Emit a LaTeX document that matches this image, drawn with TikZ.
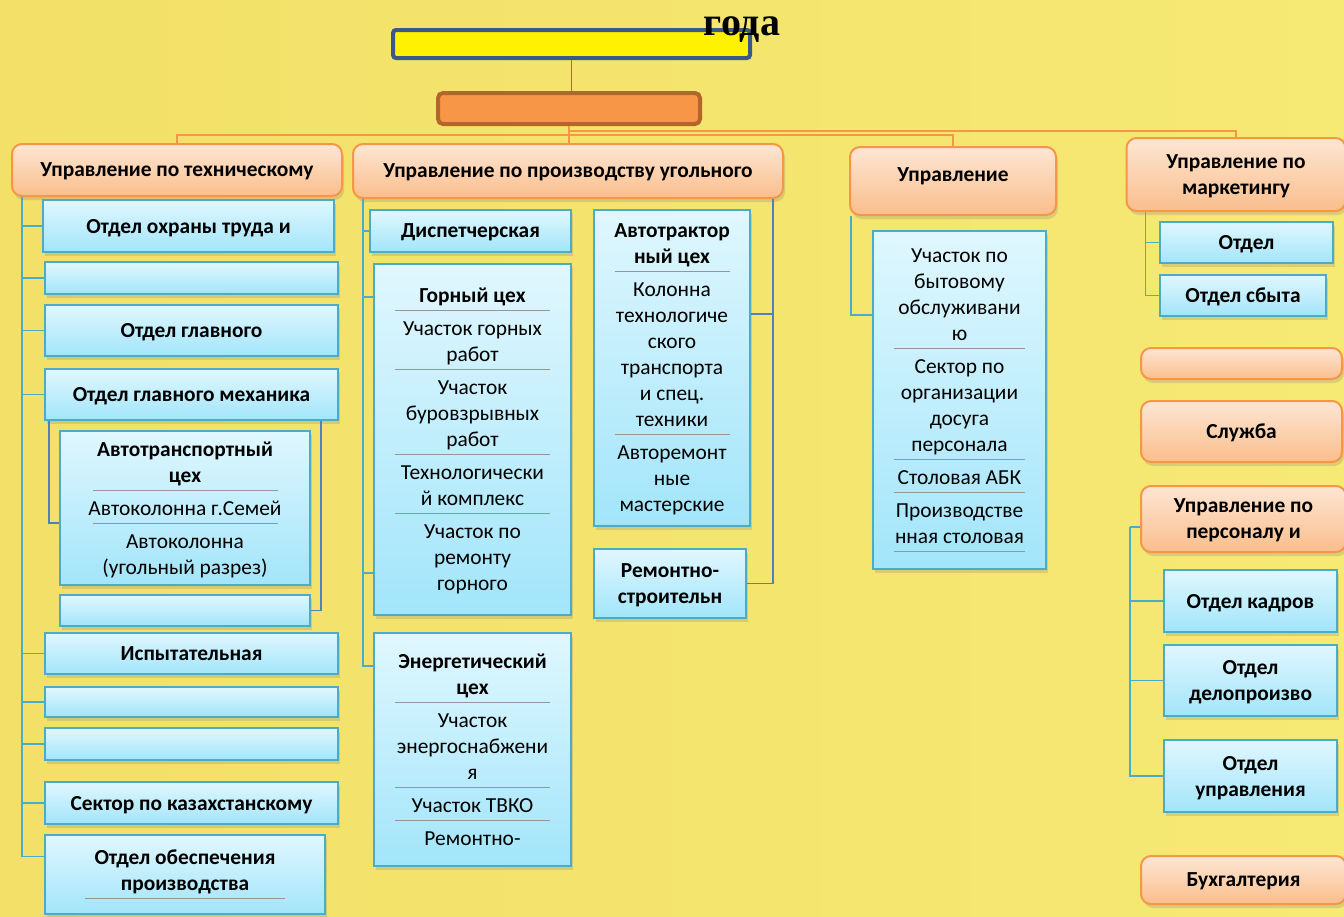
\documentclass[tikz,border=0pt]{standalone}
\usepackage{fontspec}
\setmainfont{Carlito}
\newfontfamily\titlefont{Liberation Serif}
\usetikzlibrary{shadows,calc}

\definecolor{bgL}{RGB}{242,224,104}
\definecolor{bgM}{RGB}{250,243,138}
\definecolor{bgR}{RGB}{246,233,116}
\definecolor{deptA}{RGB}{253,230,212}
\definecolor{deptB}{RGB}{250,190,140}
\definecolor{deptL}{RGB}{247,150,70}
\definecolor{unitA}{RGB}{224,247,254}
\definecolor{unitB}{RGB}{162,229,250}
\definecolor{unitL}{RGB}{75,172,198}
\definecolor{darkL}{RGB}{79,129,189}
\definecolor{genL}{RGB}{59,88,135}
\definecolor{dirF}{RGB}{247,150,70}
\definecolor{dirL}{RGB}{180,100,45}
\definecolor{sepc}{RGB}{150,150,150}

\newcommand{\fsz}{\fontsize{21.4}{26}\selectfont}
\newcommand{\sepl}[1]{\\[-18pt]\textcolor{sepc}{\rule{#1}{0.6pt}}\\[-1pt]}
\newcommand{\sepe}[1]{\\[-18pt]\textcolor{sepc}{\rule{#1}{0.6pt}}}

\begin{document}
\begin{tikzpicture}[x=1pt,y=-1pt,
  sz/.style n args={2}{minimum width=#1pt, minimum height=#2pt},
  dept/.style={draw=deptL, line width=2pt, rounded corners=10pt, top color=deptA, bottom color=deptB,
    align=center, inner sep=2pt, text depth=0pt, font=\fsz\bfseries,
    drop shadow={shadow xshift=2pt, shadow yshift=-4pt, opacity=0.25}},
  unit/.style={draw=unitL, line width=2pt, top color=unitA, bottom color=unitB,
    align=center, inner sep=2pt, text depth=0pt, font=\fsz\bfseries,
    drop shadow={shadow xshift=2pt, shadow yshift=-4pt, opacity=0.25}},
  sect/.style={unit, font=\fsz},
  tline/.style={draw=unitL, line width=1.5pt},
  bline/.style={draw=darkL, line width=1.5pt},
  oline/.style={draw=deptL, line width=1.5pt}]

  % Фон
  \fill[left color=bgL, middle color=bgM, right color=bgR] (0,0) rectangle (1344,916);
  \useasboundingbox (0,0) rectangle (1344,916);

  % Руководство
  \node[draw=genL, line width=4pt, rounded corners=3pt, fill=yellow, sz={357}{28}] (gen) at (571.5,44) {};
  \node[font=\titlefont\bfseries\fontsize{40}{40}\selectfont, anchor=base, inner sep=0pt] (god) at (742,35) {года};
  \node[draw=dirL, line width=4pt, rounded corners=5pt, fill=dirF, sz={262}{31}] (dir) at (569,108.5) {};

  % Управления
  \node[dept, sz={330}{52}] (tech) at (177,170) {Управление по техническому};
  \node[dept, sz={430}{54}] (prod) at (568,171) {Управление по производству угольного};
  \node[dept, sz={206}{68}] (soc) at (953,181) {};
  \node[font=\fsz\bfseries, inner sep=0pt] (socT) at (953,176) {Управление};
  \node[dept, sz={219}{73}] (mkt) at (1236,174.5) {Управление по\\маркетингу};

  \draw[bline] (gen.south) -- (gen.south |- dir.north);
  \coordinate (busA) at (569,131);
  \coordinate (busB) at (569,135);
  \draw[oline] (dir.south) -- (dir.south |- prod.north);
  \draw[oline] (busB) -| (tech.north);
  \draw[oline] (busB) -| (soc.north);
  \draw[oline] (busA) -| (mkt.north);

  % Техническое управление
  \node[unit, sz={291}{52}] (ohr) at (188.5,226) {Отдел охраны труда и};
  \node[unit, sz={293}{32}] (tex) at (191.5,278) {};
  \node[unit, sz={293}{51}] (glav) at (191.5,330.5) {Отдел главного};
  \node[unit, sz={293}{51}] (mech) at (191.5,394.5) {Отдел главного механика};
  \node[sect, sz={250}{154}] (avto) at (185,508)
    {\textbf{Автотранспортный}\\\textbf{цех}\sepl{185pt}Автоколонна г.Семей\sepl{185pt}Автоколонна\\(угольный разрез)};
  \node[unit, sz={250}{31}] (uch) at (185,610.5) {};
  \node[unit, sz={293}{41}] (isp) at (191.5,653.5) {Испытательная};
  \node[unit, sz={293}{30}] (asu) at (191.5,702) {};
  \node[unit, sz={293}{32}] (otx) at (191.5,744) {};
  \node[unit, sz={293}{42}] (kaz) at (191.5,803) {Сектор по казахстанскому};
  \node[unit, sz={280}{79}] (obe) at (185,874.5) {Отдел обеспечения\\производства\sepe{200pt}};

  \coordinate (ts) at ([xshift=11pt]tech.south west);
  \foreach \n in {ohr,tex,glav,mech,isp,asu,otx,kaz}
    \draw[tline] (ts) |- (\n.west);
  \draw[tline] (ts) |- ([yshift=18pt]obe.west);
  \draw[bline] ([xshift=5pt]mech.south west) |- ([yshift=-15pt]avto.west);
  \draw[bline] ([xshift=-18pt]mech.south east) |- (uch.east);

  % Производство
  \node[unit, sz={201}{42}] (disp) at (470.5,231) {Диспетчерская};
  \node[sect, sz={197}{351}] (gorn) at (472.5,439.5)
    {\textbf{Горный цех}\sepl{155pt}Участок горных\\работ\sepl{155pt}Участок\\буровзрывных\\работ\sepl{155pt}Технологически\\й комплекс\sepl{155pt}Участок по\\ремонту\\горного};
  \node[sect, sz={197}{233}] (energ) at (472.5,749.5)
    {\textbf{Энергетический}\\\textbf{цех}\sepl{155pt}Участок\\энергоснабжени\\я\sepl{155pt}Участок ТВКО\sepl{155pt}Ремонтно-};
  \node[sect, sz={156}{316}] (avtr) at (672,368)
    {\textbf{Автотрактор}\\\textbf{ный цех}\sepl{115pt}Колонна\\технологиче\\ского\\транспорта\\и спец.\\техники\sepl{115pt}Авторемонт\\ные\\мастерские};
  \node[unit, sz={152}{69}] (rem) at (670,583.5) {Ремонтно-\\строительн};

  \coordinate (pl) at ([xshift=11pt]prod.south west);
  \draw[tline] (pl) |- (disp.west);
  \draw[tline] (pl) |- ([yshift=-34pt]gorn.north west);
  \draw[tline] (pl) |- ([yshift=-310pt]gorn.north west);
  \draw[tline] (pl) |- ([yshift=-34pt]energ.north west);
  \coordinate (pr) at ([xshift=-11pt]prod.south east);
  \draw[bline] (pr) |- ([yshift=-105pt]avtr.north east);
  \draw[bline] (pr) |- (rem.east);

  % Социальное управление
  \node[sect, sz={173}{338}] (socs) at (959.5,400)
    {Участок по\\бытовому\\обслуживани\\ю\sepl{131pt}Сектор по\\организации\\досуга\\персонала\sepl{131pt}Столовая АБК\sepl{131pt}Производстве\\нная столовая\sepe{131pt}};
  \draw[tline] ([xshift=2pt]soc.south west) |- ([yshift=-85pt]socs.north west);

  % Маркетинг и службы
  \node[unit, sz={173}{41}] (otd1) at (1246.5,242.5) {Отдел};
  \node[unit, sz={166}{41}] (otd2) at (1243,295.5) {Отдел сбыта};
  \coordinate (ms) at ([xshift=20pt]mkt.south west);
  \draw[tline] (ms) |- (otd1.west);
  \draw[tline] (ms) |- (otd2.west);

  \node[dept, sz={201}{31}] (sl1) at (1241.5,363.5) {};
  \node[dept, sz={201}{61}] (slu) at (1241.5,431.5) {Служба};
  \node[dept, sz={205}{66}] (pers) at (1243.5,519) {Управление по\\персоналу и};
  \node[unit, sz={173}{62}] (kadr) at (1250.5,601) {Отдел кадров};
  \node[unit, sz={173}{71}] (delo) at (1250.5,680.5) {Отдел\\делопроизво};
  \node[unit, sz={173}{72}] (upr) at (1250.5,776) {Отдел\\управления};
  \node[dept, sz={205}{48}] (buh) at (1243.5,880) {Бухгалтерия};

  \draw[tline] ([yshift=-8pt]pers.west) -- ++(-10,0) coordinate (ps);
  \foreach \n in {kadr,delo,upr}
    \draw[tline] (ps) |- (\n.west);
\end{tikzpicture}
\end{document}
